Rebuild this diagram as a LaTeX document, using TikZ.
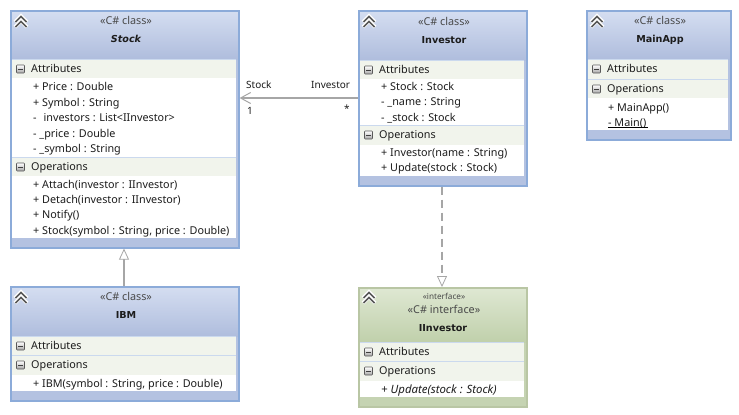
\documentclass[tikz,border=0pt]{standalone}
\usepackage{fontspec}
\setmainfont{Noto Sans}
\newfontfamily\heavyf{DejaVu Sans}
\usetikzlibrary{arrows.meta}
\definecolor{blueTop}{HTML}{D5DEF1}
\definecolor{blueBot}{HTML}{AFBDDD}
\definecolor{blueEdge}{HTML}{8CABD9}
\definecolor{blueStrip}{HTML}{B4C2E1}
\definecolor{greenTop}{HTML}{DFE8D3}
\definecolor{greenBot}{HTML}{C0D0AB}
\definecolor{greenEdge}{HTML}{B9C6A4}
\definecolor{greenStrip}{HTML}{C5D3B2}
\definecolor{bandCol}{HTML}{F1F4EC}
\definecolor{lineCol}{HTML}{A6A6A6}
\definecolor{txtCol}{HTML}{1C1C1C}
\tikzset{
  x=1pt,y=-1pt,
  txt/.style={font=\fontsize{10.8}{12}\selectfont,text=txtCol,inner sep=0pt,anchor=base west},
  conlabel/.style={font=\fontsize{10}{12}\selectfont,text=txtCol,inner sep=0pt,anchor=base west},
  small/.style={font=\fontsize{10.8}{12}\selectfont,text=txtCol!80!white,inner sep=0pt,anchor=base},
  tiny/.style={font=\fontsize{8.2}{9}\selectfont,text=txtCol!80!white,inner sep=0pt,anchor=base},
  title/.style={font=\heavyf\fontsize{9.6}{12}\selectfont\bfseries,text=txtCol,inner sep=0pt,anchor=base},
  classbox/.style={draw=blueEdge,line width=1.6pt,fill=none,inner sep=0pt,anchor=north west},
  ifacebox/.style={draw=greenEdge,line width=1.6pt,fill=none,inner sep=0pt,anchor=north west},
  assoc/.style={draw=lineCol,line width=1.4pt,-{Straight Barb[length=10pt,width=11pt,line width=1pt]}},
  gener/.style={draw=lineCol,line width=1.4pt,-{Triangle[open,fill=white,length=11pt,width=10pt,line width=.8pt]}},
  real/.style={gener,dash pattern=on 8pt off 5pt},
}
% body: x1 x2 top bottom headerBottom topcol botcol stripcol
\newcommand{\bodyfill}[8]{%
  \fill[#8] (#1,#3) rectangle (#2,#4);
  \fill[white] (#1+2,#5) rectangle (#2-2,#4-9);
  \shade[top color=#6,bottom color=#7] (#1,#3) rectangle (#2,#5);
}
% band: x1 x2 y1 y2 name label
\newcommand{\band}[6]{%
  \fill[bandCol] (#1+2,#3) rectangle (#2-2,#4);
  \draw[blueEdge!45!white,line width=.7pt] (#1+2,#3) -- (#2-2,#3);
  \shade[top color=white,bottom color=gray!70,rounded corners=.8pt,draw=black!65,line width=.6pt]
     (#1+6.5,#3+6) rectangle (#1+14.5,#3+14);
  \draw[black!75,line width=1pt] (#1+8,#3+10) -- (#1+13,#3+10);
  \node[txt] (#5) at (#1+21,#3+13.6) {#6};
}
\newcommand{\chev}[2]{%
  \foreach \d in {0,5}{
    \draw[white,line width=3.8pt] (#1-6,#2+5-\d+1) -- (#1,#2-1-\d+1) -- (#1+6,#2+5-\d+1);
  }
  \foreach \d in {0,5}{
    \draw[black!65,line width=1.7pt] (#1-5.5,#2+5-\d+1) -- (#1,#2-.5-\d+1) -- (#1+5.5,#2+5-\d+1);
  }
}
\newcommand{\mem}[4]{\node[txt] (#1) at (#2,#3) {#4};}
\begin{document}
\begin{tikzpicture}
\useasboundingbox (0,0) rectangle (739,415);
\fill[white] (0,0) rectangle (739,415);

% ---------- Stock
\bodyfill{10}{238}{10}{247}{59}{blueTop}{blueBot}{blueStrip}
\band{10}{238}{59}{78}{stockAttr}{Attributes}
\band{10}{238}{157}{176}{stockOps}{Operations}
\chev{21}{21}
\node[small] (stockSt) at (126,24) {«C\# class»};
\node[title,font=\heavyf\fontsize{9.6}{12}\selectfont\bfseries\itshape] (stockNm) at (126,42) {Stock};
\mem{s1}{33}{90}{+ Price : Double}
\mem{s2}{33}{106}{+ Symbol : String}
\mem{s3}{33}{121}{-\hspace{7pt}investors : List<IInvestor>}
\mem{s4}{33}{137}{- \_price : Double}
\mem{s5}{33}{152}{- \_symbol : String}
\mem{s6}{33}{188}{+ Attach(investor : IInvestor)}
\mem{s7}{33}{203}{+ Detach(investor : IInvestor)}
\mem{s8}{33}{218}{+ Notify()}
\mem{s9}{33}{234}{+ Stock(symbol : String, price : Double)}
\node[classbox,minimum width=228pt,minimum height=237pt] (stock) at (10,10) {};

% ---------- IBM
\bodyfill{10}{238}{286}{400}{336}{blueTop}{blueBot}{blueStrip}
\band{10}{238}{336}{355}{ibmAttr}{Attributes}
\band{10}{238}{355}{375}{ibmOps}{Operations}
\chev{21}{297}
\node[small] (ibmSt) at (126,300) {«C\# class»};
\node[title] (ibmNm) at (126,318) {IBM};
\mem{b1}{33}{387}{+ IBM(symbol : String, price : Double)}
\node[classbox,minimum width=228pt,minimum height=114pt] (ibm) at (10,286) {};

% ---------- Investor
\bodyfill{358}{526}{10}{185}{60}{blueTop}{blueBot}{blueStrip}
\band{358}{526}{60}{79}{invAttr}{Attributes}
\band{358}{526}{125}{145}{invOps}{Operations}
\chev{369}{21}
\node[small] (invSt) at (444,25) {«C\# class»};
\node[title] (invNm) at (444,43) {Investor};
\mem{i1}{381}{90}{+ Stock : Stock}
\mem{i2}{381}{105}{- \_name : String}
\mem{i3}{381}{121}{- \_stock : Stock}
\mem{i4}{381}{156}{+ Investor(name : String)}
\mem{i5}{381}{171}{+ Update(stock : Stock)}
\node[classbox,minimum width=168pt,minimum height=175pt] (inv) at (358,10) {};

% ---------- MainApp
\bodyfill{586}{730}{10}{139}{59}{blueTop}{blueBot}{blueStrip}
\band{586}{730}{59}{79}{mainAttr}{Attributes}
\band{586}{730}{79}{98}{mainOps}{Operations}
\chev{597}{21}
\node[small] (mainSt) at (660,24) {«C\# class»};
\node[title] (mainNm) at (660,42) {MainApp};
\mem{m1}{608}{111}{+ MainApp()}
\mem{m2}{608}{126}{- Main()}
\draw[black,line width=.7pt] (m2.base west)++(0,1.8) -- ++(40,0);
\node[classbox,minimum width=144pt,minimum height=129pt] (mainapp) at (586,10) {};

% ---------- IInvestor
\bodyfill{358}{526}{287}{406}{342}{greenTop}{greenBot}{greenStrip}
\band{358}{526}{342}{361}{ifAttr}{Attributes}
\band{358}{526}{361}{381}{ifOps}{Operations}
\chev{369}{297}
\node[tiny] (ifKw) at (444,299) {«interface»};
\node[small] (ifSt) at (444,313) {«C\# interface»};
\node[title] (ifNm) at (443,331) {IInvestor};
\node[txt,font=\fontsize{11.4}{12}\selectfont\itshape] (f1) at (381,393) {+ Update(stock : Stock)};
\node[ifacebox,minimum width=168pt,minimum height=119pt] (iface) at (358,287) {};

% ---------- Connectors
\draw[assoc] (inv.west |- 0,98) -- (stock.east |- 0,98);
\draw[gener] (ibm.north -| 124,0) -- (stock.south -| 124,0);
\draw[real] (inv.south -| 442,0) -- (iface.north -| 442,0);

% ---------- Connector labels
\node[conlabel] (lbStock) at (246,88) {Stock};
\node[conlabel] (lbInv) at (311,88) {Investor};
\node[conlabel] (lbOne) at (247,114) {1};
\node[conlabel] (lbMany) at (344,112) {*};
\end{tikzpicture}
\end{document}
